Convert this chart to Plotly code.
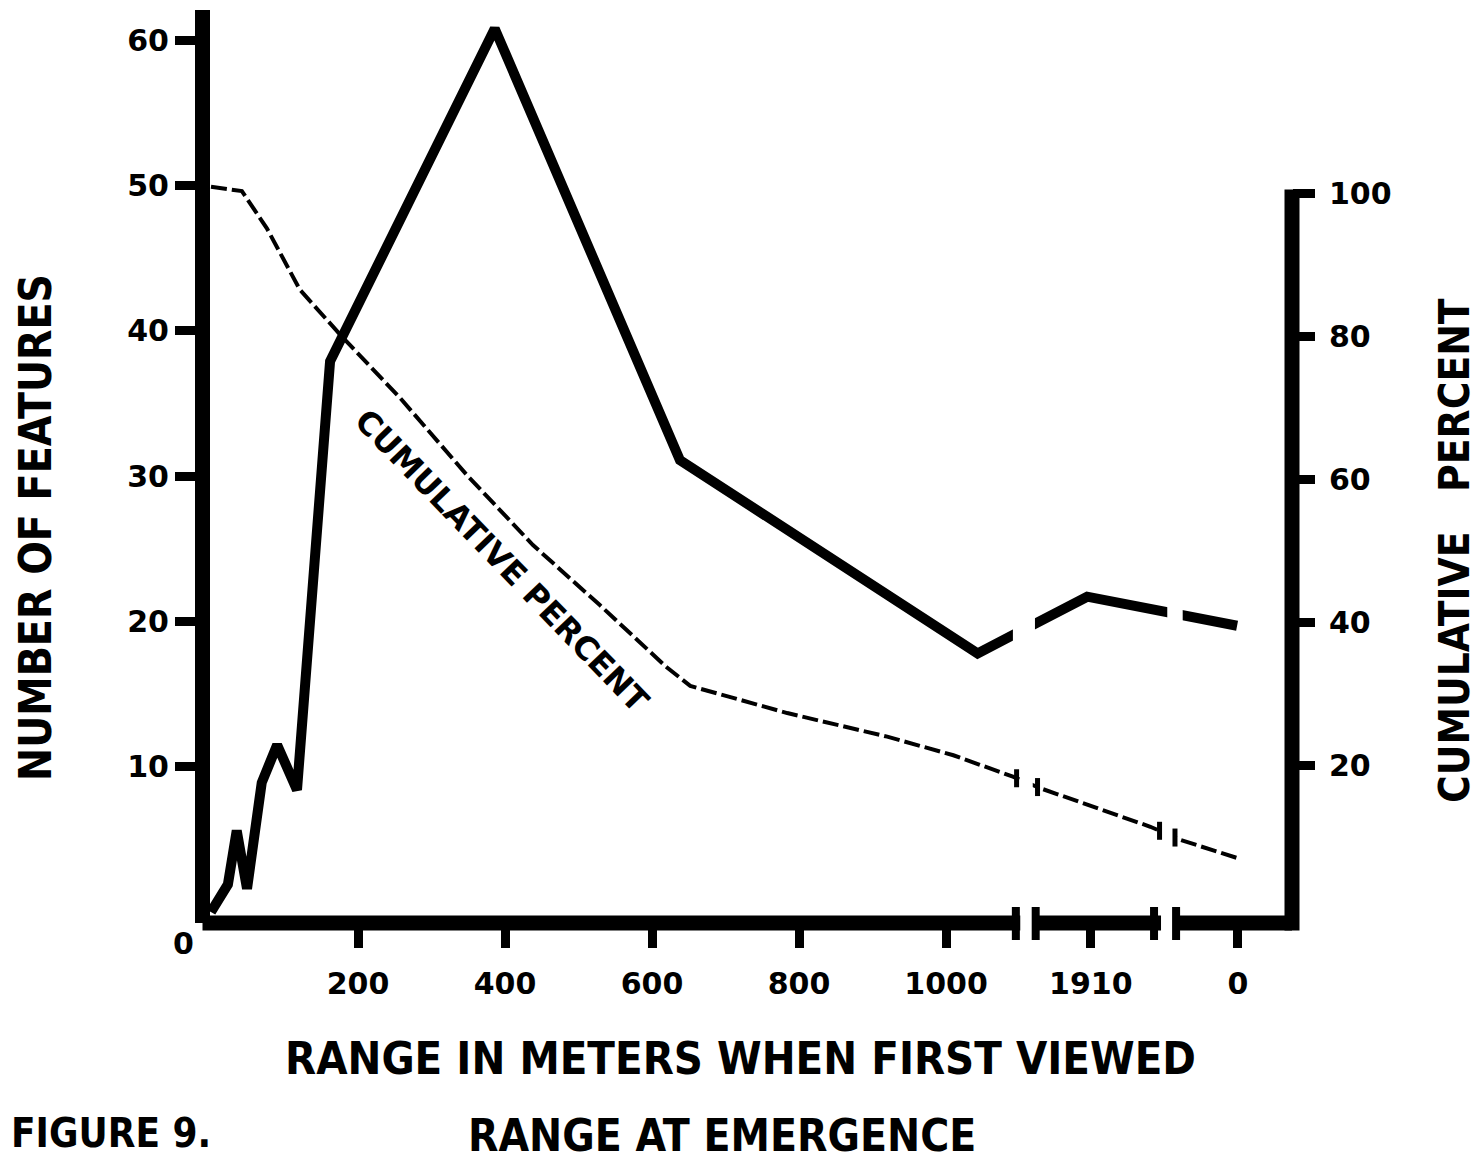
import numpy as np
import plotly.graph_objects as go

# ---------------- data ----------------
# x positions on the range scale (the two right-hand groups are placed after axis breaks)
RANGE_M = [0, 23, 35, 49, 69, 90, 117, 162, 386, 638, 1043, 1192, 1396]
N_FEATURES = [0, 1.9, 5.6, 1.6, 8.9, 11.5, 8.4, 37.9, 60.8, 31.1, 17.8, 21.7, 19.7]

CUM_X = [0, 42, 76, 121, 176, 257, 348, 438, 529, 620, 652, 784, 920, 1010, 1091, 1128, 1278, 1318, 1400]
CUM_PCT = [101, 100.4, 95.2, 86.6, 80.3, 71.5, 60.7, 50.9, 42.5, 33.8, 31.2, 27.4, 24.1, 21.5,
           18.5, 16.9, 11.5, 9.7, 7.0]

X_TICKS = [200, 400, 600, 800, 1000, 1197, 1397]
X_TICK_LABELS = ["200", "400", "600", "800", "1000", "1910", "0"]
Y_TICKS = [10, 20, 30, 40, 50, 60]
Y2_TICKS = [20, 40, 60, 80, 100]

# ---------------- geometry ----------------
OFF = 8                      # page body margin
W, H = 1480 - OFF, 1163 - OFF
REF_L, REF_R, REF_T, REF_B = 210, 1292, 10, 923   # plot area in page pixels
ML, MT = REF_L - OFF, REF_T - OFF
MR = W - (REF_R - OFF)
MB = H - (REF_B - OFF)
PW, PH = REF_R - REF_L, REF_B - REF_T
XR = [-1.36, 1470.7]
YR = [-0.757, 62.08]
Y2R = [-1.96, 125.73]
AXW = 15  # axis line width

def xp(x):  # data x -> paper
    return (x - XR[0]) / (XR[1] - XR[0])

def y2p(y):  # right-axis value -> paper
    return (y - Y2R[0]) / (Y2R[1] - Y2R[0])

def pxp(px):  # page pixel -> paper
    return (px - REF_L) / PW

def pyp(py):
    return (REF_B - py) / PH

# axis breaks (in x data units)
SOLID_GAPS = [(1091, 1121), (1301, 1322)]
LINE_GAPS = [(1101, 1118), (1292.5, 1309)]
AXIS_CAPS = [1095, 1122, 1283, 1313]
CUM_CAPS = [1096, 1124.5, 1290.5, 1311.5]

FONT = "DejaVu Sans"
CFONT = "DejaVu Sans Condensed"

fig = go.Figure()
fig.add_trace(go.Scatter(x=RANGE_M, y=N_FEATURES, mode="lines",
                         line=dict(color="black", width=10), yaxis="y"))
fig.add_trace(go.Scatter(x=CUM_X, y=CUM_PCT, mode="lines",
                         line=dict(color="black", width=4, dash="16px,5px"), yaxis="y2"))

shapes = []
# bottom axis line
shapes.append(dict(type="line", xref="paper", yref="paper", x0=pxp(REF_L - AXW / 2), x1=1,
                   y0=0, y1=0, line=dict(color="black", width=AXW), layer="above"))
# right axis line (0..100 %)
shapes.append(dict(type="line", xref="paper", yref="paper", x0=1, x1=1,
                   y0=pyp(REF_B + AXW / 2), y1=y2p(100) + 4.5 / PH,
                   line=dict(color="black", width=AXW), layer="above"))
# white gaps
for a, b in SOLID_GAPS:
    shapes.append(dict(type="rect", xref="paper", yref="paper", x0=xp(a), x1=xp(b),
                       y0=pyp(690), y1=pyp(560), fillcolor="white", line=dict(width=0),
                       layer="above"))
for a, b in LINE_GAPS:
    shapes.append(dict(type="rect", xref="paper", yref="paper", x0=xp(a), x1=xp(b),
                       y0=pyp(940), y1=pyp(740), fillcolor="white", line=dict(width=0),
                       layer="above"))
# axis break caps
for c in AXIS_CAPS:
    shapes.append(dict(type="line", xref="paper", yref="paper", x0=xp(c), x1=xp(c),
                       y0=pyp(940), y1=pyp(907), line=dict(color="black", width=8),
                       layer="above"))
# cumulative-line break caps
for c in CUM_CAPS:
    yc = float(np.interp(c, CUM_X, CUM_PCT))
    shapes.append(dict(type="line", xref="paper", yref="paper", x0=xp(c), x1=xp(c),
                       y0=y2p(yc) - 9 / PH, y1=y2p(yc) + 9 / PH,
                       line=dict(color="black", width=5), layer="above"))

ann = []
def text(s, px, py, size, family=FONT, angle=0, xanchor="center"):
    ann.append(dict(text=s, xref="paper", yref="paper", x=pxp(px), y=pyp(py),
                    showarrow=False, textangle=angle, xanchor=xanchor, yanchor="middle",
                    font=dict(family=family, size=size, color="black", weight="bold")))

text("0", 183, 943, 30)
text("NUMBER OF FEATURES", 35, 528, 44, CFONT, -90)
text("CUMULATIVE\u00a0\u00a0\u00a0PERCENT", 1454, 551, 42, CFONT, -90)
text("RANGE IN METERS WHEN FIRST VIEWED", 740, 1058, 45, CFONT)
text("RANGE AT EMERGENCE", 722, 1135, 44, CFONT)
text("FIGURE 9.", OFF + 1, 1133, 40, CFONT, xanchor="left")
text("CUMULATIVE PERCENT", 502, 561, 32, FONT, 46)

tickfont = dict(family=FONT, size=30, color="black", weight="bold")
fig.update_layout(
    width=W, height=H, margin=dict(l=ML, r=MR, t=MT, b=MB, pad=0),
    paper_bgcolor="white", plot_bgcolor="white", showlegend=False,
    xaxis=dict(range=XR, showgrid=False, zeroline=False, showline=False,
               tickvals=X_TICKS, ticktext=X_TICK_LABELS, ticks="outside", ticklen=24,
               tickwidth=9, tickcolor="black", tickfont=tickfont, ticklabelstandoff=10),
    yaxis=dict(range=YR, showgrid=False, zeroline=False, showline=True, linewidth=AXW,
               linecolor="black", tickvals=Y_TICKS, ticks="outside", ticklen=20,
               tickwidth=9, tickcolor="black", tickfont=tickfont),
    yaxis2=dict(range=Y2R, overlaying="y", side="right", showgrid=False, zeroline=False,
                showline=False, tickvals=Y2_TICKS, ticks="outside", ticklen=22,
                tickwidth=9, tickcolor="black", tickfont=tickfont, ticklabelstandoff=8),
    shapes=shapes, annotations=ann,
)

fig.write_html("out.html")
